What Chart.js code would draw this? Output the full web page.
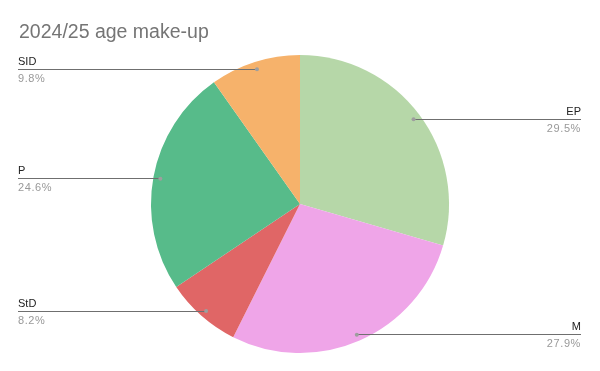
<!DOCTYPE html>
<html>
<head>
<meta charset="utf-8">
<script src="https://cdn.jsdelivr.net/npm/chart.js@4.4.1/dist/chart.umd.min.js"></script>
<style>
  html, body { margin: 0; padding: 0; background: #fff; }
  #wrap { width: 600px; height: 371px; }
</style>
</head>
<body>
<div id="wrap"><canvas id="chart"></canvas></div>
<script>
const title = "2024/25 age make-up";
const categories = ["EP", "M", "StD", "P", "SID"];
const shares = [29.5, 27.9, 8.2, 24.6, 9.8];
const sliceColors = ["#b6d7a8", "#efa5e8", "#e06666", "#57bb8a", "#f6b26b"];

// draws title + leader lines + labels next to the pie
const calloutPlugin = {
  id: "callouts",
  afterDraw(chart) {
    const ctx = chart.ctx;
    ctx.save();
    ctx.font = "19.5px 'Liberation Sans', Arial";
    ctx.fillStyle = "#757575";
    ctx.textBaseline = "alphabetic";
    ctx.textAlign = "left";
    ctx.fillText(title, 19, 38);

    const meta = chart.getDatasetMeta(0);
    meta.data.forEach((arc, i) => {
      const p = arc.getProps(["x", "y", "startAngle", "endAngle", "outerRadius"]);
      const mid = (p.startAngle + p.endAngle) / 2;
      const r = p.outerRadius * 0.953;
      const dx = p.x + Math.cos(mid) * r;
      const dy = p.y + Math.sin(mid) * r;
      const right = Math.cos(mid) > 0;
      const edge = right ? 581 : 18;

      ctx.strokeStyle = "#6f6f6f";
      ctx.lineWidth = 1;
      ctx.beginPath();
      ctx.moveTo(edge, Math.round(dy) + 0.5);
      ctx.lineTo(dx, Math.round(dy) + 0.5);
      ctx.stroke();

      ctx.fillStyle = "#9e9e9e";
      ctx.beginPath();
      ctx.arc(dx, dy + 0.5, 2, 0, Math.PI * 2);
      ctx.fill();

      ctx.textAlign = right ? "right" : "left";
      ctx.font = "11px 'Liberation Sans', Arial";
      ctx.letterSpacing = "0px";
      ctx.fillStyle = "#222222";
      ctx.fillText(categories[i], edge, Math.round(dy) - 4);
      ctx.letterSpacing = "0.6px";
      ctx.fillStyle = "#999999";
      ctx.fillText(shares[i].toFixed(1) + "%", edge, Math.round(dy) + 13);
    });
    ctx.restore();
  }
};

new Chart(document.getElementById("chart"), {
  type: "pie",
  data: {
    labels: categories,
    datasets: [{
      data: shares,
      backgroundColor: sliceColors,
      borderWidth: 0
    }]
  },
  options: {
    responsive: true,
    maintainAspectRatio: false,
    animation: false,
    layout: { padding: { top: 55, bottom: 18, left: 0, right: 0 } },
    plugins: {
      legend: { display: false },
      tooltip: { enabled: false }
    }
  },
  plugins: [calloutPlugin]
});
</script>
</body>
</html>
